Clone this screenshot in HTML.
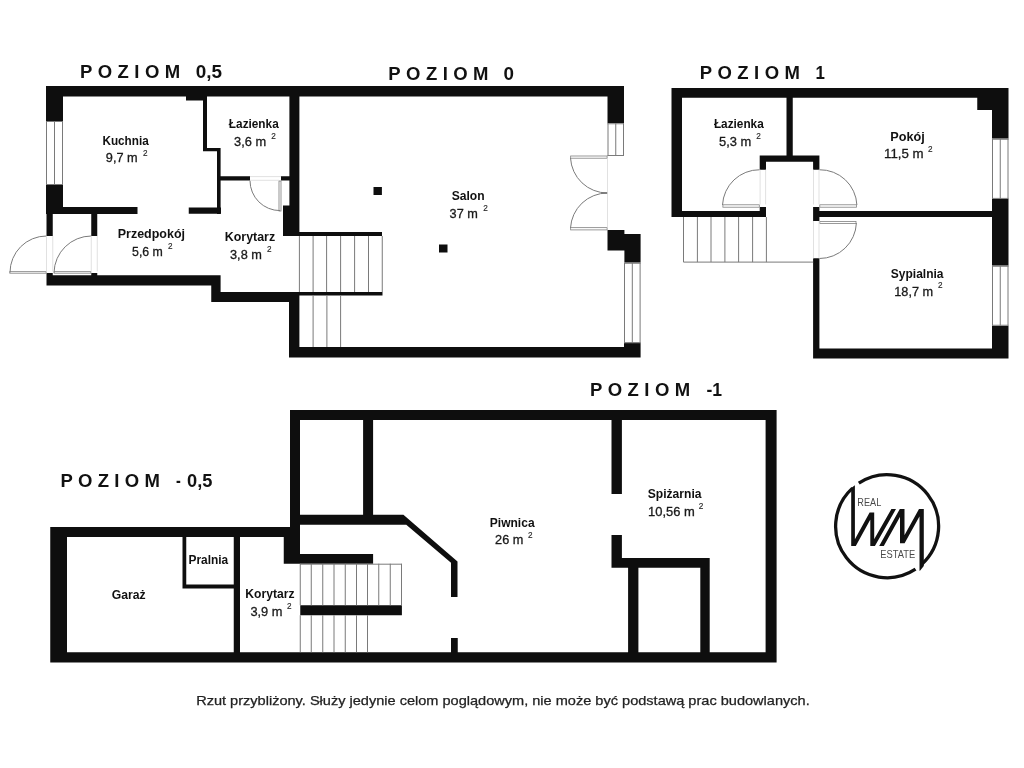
<!DOCTYPE html>
<html><head><meta charset="utf-8"><style>
html,body{margin:0;padding:0;background:#fff;width:1024px;height:768px;overflow:hidden}
svg{display:block;font-family:"Liberation Sans",sans-serif;will-change:transform}
</style></head><body>
<svg width="1024" height="768" viewBox="0 0 1024 768">

<path fill="#0e0e0e" d="M46,86H624V96.5H46ZM46,86H63V121H46ZM46,185H63V214H46ZM46,207H137.5V214H46ZM188.75,207.5H221V213.75H188.75ZM46.5,214H52.75V236H46.5ZM91.25,214H97.25V236H91.25ZM46.5,273H52.75V276H46.5ZM91.25,273H97.25V276H91.25ZM46.5,275.25H220.6V285.6H46.5ZM211.25,275.25H220.6V302H211.25ZM211.25,292H299.4V302H211.25ZM186,96.5H207V100.6H186ZM203,96.5H207V151.25H203ZM203,148H220.6V151.25H203ZM217,148H220.6V214H217ZM217,176.25H250V180.6H217ZM281,176.25H289.4V180.6H281ZM289.4,96.5H299.4V236H289.4ZM283,205.6H299.4V236H283ZM283,232H382V236H283ZM289,292H299.4V357.5H289ZM289,347H640.6V357.5H289ZM607.5,86H624V123.25H607.5ZM607.5,230L624.4,230L624.4,234.1L640.6,234.1L640.6,262.75L624.4,262.75L624.4,250.6L607.5,250.6ZM624,343.1H640.6V357.5H624ZM299.4,292H382.5V295.6H299.4ZM373.5,187H381.9V195H373.5ZM439,244.5H447.5V252.5H439ZM671.5,88H1008.5V97.8H671.5ZM671.5,88H682V217H671.5ZM671.5,211H766V217H671.5ZM786.5,97.8H792.75V155.6H786.5ZM759.7,155.6H819.4V161.7H759.7ZM759.7,161.7H766V169.75H759.7ZM813.1,161.7H819.4V169.75H813.1ZM759.7,207H766V217H759.7ZM813.1,207H819.4V221H813.1ZM819.4,211H992V217H819.4ZM813.1,258.3H819.4V358.5H813.1ZM813.1,348.5H1008.5V358.5H813.1ZM992,88H1008.5V138.75H992ZM977.25,97.8H992V110H977.25ZM992,198.9H1008.5V265.75H992ZM992,325.75H1008.5V358.5H992ZM50.25,527H290V537H50.25ZM50.25,527H67V662.5H50.25ZM50.25,652.2H776.6V662.5H50.25ZM182.5,537H186.25V588.5H182.5ZM182.5,584.4H239.75V588.5H182.5ZM233.75,537H240V652.2H233.75ZM283.75,527H300V563.75H283.75ZM284.4,554H373.1V563.75H284.4ZM290,410H776.6V420H290ZM290,410H300V563.75H290ZM363.1,420H373.1V515H363.1ZM300,514.75L403.4,514.75L457.5,561.4L457.5,597L451,597L451,562.8L406.25,524.8L300,524.8ZM451,638H457.75V652.5H451ZM300.25,605.25H401.9V615.25H300.25ZM611.5,420H621.9V494H611.5ZM611.5,535H621.9V567.8H611.5ZM611.5,557.9H709.7V567.8H611.5ZM628.1,567.8H638.4V652.2H628.1ZM700.3,557.9H709.7V652.2H700.3ZM765.6,410H776.6V662.5H765.6Z"/>
<rect x="46" y="121" width="17" height="64" fill="#fff"/>
<line x1="46.5" y1="121" x2="46.5" y2="185" stroke="#7a7a7a" stroke-width="1"/>
<line x1="54.5" y1="121" x2="54.5" y2="185" stroke="#7a7a7a" stroke-width="1"/>
<line x1="62.5" y1="121" x2="62.5" y2="185" stroke="#7a7a7a" stroke-width="1"/>
<line x1="46" y1="121.5" x2="63" y2="121.5" stroke="#7a7a7a" stroke-width="1"/>
<line x1="46" y1="184.5" x2="63" y2="184.5" stroke="#7a7a7a" stroke-width="1"/>
<rect x="9.8" y="271.65" width="36.3" height="1.55" fill="#fff" stroke="#808080" stroke-width="0.8"/>
<path d="M46.5,236 A36.5,36.5 0 0 0 10,272.5" stroke="#7a7a7a" stroke-width="1" fill="none"/>
<rect x="54.15" y="271.65" width="36.7" height="1.55" fill="#fff" stroke="#808080" stroke-width="0.8"/>
<path d="M91.25,236 A37.5,37.5 0 0 0 54,272.5" stroke="#7a7a7a" stroke-width="1" fill="none"/>
<rect x="279" y="181" width="2" height="30" fill="#fff" stroke="#7a7a7a" stroke-width="0.8"/>
<path d="M250,180.6 A30,30 0 0 0 280,210.6" stroke="#7a7a7a" stroke-width="1" fill="none"/>
<rect x="607.5" y="123.25" width="16.5" height="32.75" fill="#fff"/>
<line x1="608.0" y1="123.25" x2="608.0" y2="156" stroke="#7a7a7a" stroke-width="1"/>
<line x1="615.75" y1="123.25" x2="615.75" y2="156" stroke="#7a7a7a" stroke-width="1"/>
<line x1="623.5" y1="123.25" x2="623.5" y2="156" stroke="#7a7a7a" stroke-width="1"/>
<line x1="607.5" y1="123.75" x2="624" y2="123.75" stroke="#7a7a7a" stroke-width="1"/>
<line x1="607.5" y1="155.5" x2="624" y2="155.5" stroke="#7a7a7a" stroke-width="1"/>
<rect x="624" y="262.75" width="16.6" height="80.35" fill="#fff"/>
<line x1="624.5" y1="262.75" x2="624.5" y2="343.1" stroke="#7a7a7a" stroke-width="1"/>
<line x1="632.3" y1="262.75" x2="632.3" y2="343.1" stroke="#7a7a7a" stroke-width="1"/>
<line x1="640.1" y1="262.75" x2="640.1" y2="343.1" stroke="#7a7a7a" stroke-width="1"/>
<line x1="624" y1="263.25" x2="640.6" y2="263.25" stroke="#7a7a7a" stroke-width="1"/>
<line x1="624" y1="342.6" x2="640.6" y2="342.6" stroke="#7a7a7a" stroke-width="1"/>
<rect x="570.65" y="156.0" width="36.45" height="2.2" fill="#fff" stroke="#808080" stroke-width="0.8"/>
<path d="M570.5,158 A37,37 0 0 0 607.5,193" stroke="#7a7a7a" stroke-width="1" fill="none"/>
<rect x="570.65" y="227.65" width="36.45" height="2.25" fill="#fff" stroke="#808080" stroke-width="0.8"/>
<path d="M570.5,228 A37,37 0 0 1 607.5,193" stroke="#7a7a7a" stroke-width="1" fill="none"/>
<line x1="601" y1="193" x2="607.5" y2="193" stroke="#7a7a7a" stroke-width="1.5"/>
<line x1="299.4" y1="236" x2="299.4" y2="292" stroke="#7a7a7a" stroke-width="1"/>
<line x1="313.1" y1="236" x2="313.1" y2="292" stroke="#7a7a7a" stroke-width="1"/>
<line x1="326.6" y1="236" x2="326.6" y2="292" stroke="#7a7a7a" stroke-width="1"/>
<line x1="340.6" y1="236" x2="340.6" y2="292" stroke="#7a7a7a" stroke-width="1"/>
<line x1="354.6" y1="236" x2="354.6" y2="292" stroke="#7a7a7a" stroke-width="1"/>
<line x1="368.5" y1="236" x2="368.5" y2="292" stroke="#7a7a7a" stroke-width="1"/>
<line x1="382.25" y1="236" x2="382.25" y2="292" stroke="#7a7a7a" stroke-width="1"/>
<line x1="313.1" y1="295.6" x2="313.1" y2="347" stroke="#7a7a7a" stroke-width="1"/>
<line x1="326.9" y1="295.6" x2="326.9" y2="347" stroke="#7a7a7a" stroke-width="1"/>
<line x1="340.6" y1="295.6" x2="340.6" y2="347" stroke="#7a7a7a" stroke-width="1"/>
<rect x="992" y="138.75" width="16.5" height="60.15" fill="#fff"/>
<line x1="992.5" y1="138.75" x2="992.5" y2="198.9" stroke="#7a7a7a" stroke-width="1"/>
<line x1="1000.25" y1="138.75" x2="1000.25" y2="198.9" stroke="#7a7a7a" stroke-width="1"/>
<line x1="1008.0" y1="138.75" x2="1008.0" y2="198.9" stroke="#7a7a7a" stroke-width="1"/>
<line x1="992" y1="139.25" x2="1008.5" y2="139.25" stroke="#7a7a7a" stroke-width="1"/>
<line x1="992" y1="198.4" x2="1008.5" y2="198.4" stroke="#7a7a7a" stroke-width="1"/>
<rect x="992" y="265.75" width="16.5" height="60.0" fill="#fff"/>
<line x1="992.5" y1="265.75" x2="992.5" y2="325.75" stroke="#7a7a7a" stroke-width="1"/>
<line x1="1000.25" y1="265.75" x2="1000.25" y2="325.75" stroke="#7a7a7a" stroke-width="1"/>
<line x1="1008.0" y1="265.75" x2="1008.0" y2="325.75" stroke="#7a7a7a" stroke-width="1"/>
<line x1="992" y1="266.25" x2="1008.5" y2="266.25" stroke="#7a7a7a" stroke-width="1"/>
<line x1="992" y1="325.25" x2="1008.5" y2="325.25" stroke="#7a7a7a" stroke-width="1"/>
<line x1="683.5" y1="217" x2="683.5" y2="262.1" stroke="#7a7a7a" stroke-width="1"/>
<line x1="697.4" y1="217" x2="697.4" y2="262.1" stroke="#7a7a7a" stroke-width="1"/>
<line x1="711" y1="217" x2="711" y2="262.1" stroke="#7a7a7a" stroke-width="1"/>
<line x1="724.9" y1="217" x2="724.9" y2="262.1" stroke="#7a7a7a" stroke-width="1"/>
<line x1="738.6" y1="217" x2="738.6" y2="262.1" stroke="#7a7a7a" stroke-width="1"/>
<line x1="752.6" y1="217" x2="752.6" y2="262.1" stroke="#7a7a7a" stroke-width="1"/>
<line x1="766.4" y1="217" x2="766.4" y2="262.1" stroke="#7a7a7a" stroke-width="1"/>
<line x1="683.5" y1="262.1" x2="813.1" y2="262.1" stroke="#7a7a7a" stroke-width="1"/>
<rect x="722.9" y="204.8" width="36.4" height="2.4" fill="#fff" stroke="#808080" stroke-width="0.8"/>
<path d="M722.5,205 A37,37 0 0 1 759.7,169.75" stroke="#7a7a7a" stroke-width="1" fill="none"/>
<rect x="819.8" y="204.8" width="36.7" height="2.4" fill="#fff" stroke="#808080" stroke-width="0.8"/>
<path d="M819.4,169.75 A37,37 0 0 1 856.9,205" stroke="#7a7a7a" stroke-width="1" fill="none"/>
<rect x="819.8" y="221.5" width="36.2" height="2.0" fill="#fff" stroke="#808080" stroke-width="0.8"/>
<path d="M856.4,223 A37,37 0 0 1 819.4,258.5" stroke="#7a7a7a" stroke-width="1" fill="none"/>
<line x1="300" y1="564.2" x2="401.9" y2="564.2" stroke="#7a7a7a" stroke-width="1"/>
<line x1="300.25" y1="563.75" x2="300.25" y2="605.25" stroke="#7a7a7a" stroke-width="1"/>
<line x1="311.25" y1="563.75" x2="311.25" y2="605.25" stroke="#7a7a7a" stroke-width="1"/>
<line x1="322.75" y1="563.75" x2="322.75" y2="605.25" stroke="#7a7a7a" stroke-width="1"/>
<line x1="334" y1="563.75" x2="334" y2="605.25" stroke="#7a7a7a" stroke-width="1"/>
<line x1="345.25" y1="563.75" x2="345.25" y2="605.25" stroke="#7a7a7a" stroke-width="1"/>
<line x1="356.5" y1="563.75" x2="356.5" y2="605.25" stroke="#7a7a7a" stroke-width="1"/>
<line x1="367.5" y1="563.75" x2="367.5" y2="605.25" stroke="#7a7a7a" stroke-width="1"/>
<line x1="378.75" y1="563.75" x2="378.75" y2="605.25" stroke="#7a7a7a" stroke-width="1"/>
<line x1="390.25" y1="563.75" x2="390.25" y2="605.25" stroke="#7a7a7a" stroke-width="1"/>
<line x1="401.5" y1="563.75" x2="401.5" y2="605.25" stroke="#7a7a7a" stroke-width="1"/>
<line x1="300.25" y1="615.25" x2="300.25" y2="652.2" stroke="#7a7a7a" stroke-width="1"/>
<line x1="311.25" y1="615.25" x2="311.25" y2="652.2" stroke="#7a7a7a" stroke-width="1"/>
<line x1="322.75" y1="615.25" x2="322.75" y2="652.2" stroke="#7a7a7a" stroke-width="1"/>
<line x1="334" y1="615.25" x2="334" y2="652.2" stroke="#7a7a7a" stroke-width="1"/>
<line x1="345.25" y1="615.25" x2="345.25" y2="652.2" stroke="#7a7a7a" stroke-width="1"/>
<line x1="356.5" y1="615.25" x2="356.5" y2="652.2" stroke="#7a7a7a" stroke-width="1"/>
<line x1="367.5" y1="615.25" x2="367.5" y2="652.2" stroke="#7a7a7a" stroke-width="1"/>
<line x1="46.5" y1="236" x2="46.5" y2="271.5" stroke="#d9d9d9" stroke-width="0.8"/>
<line x1="52.75" y1="236" x2="52.75" y2="271.5" stroke="#d9d9d9" stroke-width="0.8"/>
<line x1="91.25" y1="236" x2="91.25" y2="271.5" stroke="#d9d9d9" stroke-width="0.8"/>
<line x1="97.25" y1="236" x2="97.25" y2="271.5" stroke="#d9d9d9" stroke-width="0.8"/>
<line x1="250" y1="176.6" x2="281" y2="176.6" stroke="#d9d9d9" stroke-width="0.8"/>
<line x1="250" y1="180.3" x2="279" y2="180.3" stroke="#d9d9d9" stroke-width="0.8"/>
<line x1="607.5" y1="158.5" x2="607.5" y2="227.5" stroke="#d9d9d9" stroke-width="0.8"/>
<line x1="760.1" y1="169.75" x2="760.1" y2="204.5" stroke="#d9d9d9" stroke-width="0.8"/>
<line x1="765.6" y1="169.75" x2="765.6" y2="204.5" stroke="#d9d9d9" stroke-width="0.8"/>
<line x1="813.5" y1="169.75" x2="813.5" y2="204.5" stroke="#d9d9d9" stroke-width="0.8"/>
<line x1="819" y1="169.75" x2="819" y2="204.5" stroke="#d9d9d9" stroke-width="0.8"/>
<line x1="813.5" y1="221" x2="813.5" y2="258.3" stroke="#d9d9d9" stroke-width="0.8"/>
<line x1="819" y1="221" x2="819" y2="258.3" stroke="#d9d9d9" stroke-width="0.8"/>
<text id="kuch_n" x="102.44" y="145.4" font-size="12.5" font-weight="bold" fill="#111" textLength="46.29" lengthAdjust="spacingAndGlyphs">Kuchnia</text>
<text id="kuch_a" x="105.88" y="162.4" font-size="12.5" font-weight="normal" fill="#1a1a1a" stroke="#1a1a1a" stroke-width="0.3" textLength="31.78" lengthAdjust="spacingAndGlyphs">9,7 m</text>
<text id="kuch_s" x="142.9" y="156" font-size="8.2" font-weight="normal" fill="#262626" stroke="#262626" stroke-width="0.15">2</text>
<text id="laz0_n" x="228.86" y="128.1" font-size="12.5" font-weight="bold" fill="#111" textLength="49.84" lengthAdjust="spacingAndGlyphs">Łazienka</text>
<text id="laz0_a" x="234.0" y="145.6" font-size="12.5" font-weight="normal" fill="#1a1a1a" stroke="#1a1a1a" stroke-width="0.3" textLength="32.07" lengthAdjust="spacingAndGlyphs">3,6 m</text>
<text id="laz0_s" x="271.19" y="138.5" font-size="8.2" font-weight="normal" fill="#262626" stroke="#262626" stroke-width="0.15">2</text>
<text id="przed_n" x="117.73" y="238" font-size="12.5" font-weight="bold" fill="#111" textLength="67.27" lengthAdjust="spacingAndGlyphs">Przedpokój</text>
<text id="przed_a" x="132.07" y="255.6" font-size="12.5" font-weight="normal" fill="#1a1a1a" stroke="#1a1a1a" stroke-width="0.3" textLength="30.82" lengthAdjust="spacingAndGlyphs">5,6 m</text>
<text id="przed_s" x="167.89" y="249" font-size="8.2" font-weight="normal" fill="#262626" stroke="#262626" stroke-width="0.15">2</text>
<text id="kor0_n" x="224.78" y="241.25" font-size="12.5" font-weight="bold" fill="#111" textLength="50.35" lengthAdjust="spacingAndGlyphs">Korytarz</text>
<text id="kor0_a" x="230.03" y="258.75" font-size="12.5" font-weight="normal" fill="#1a1a1a" stroke="#1a1a1a" stroke-width="0.3" textLength="31.84" lengthAdjust="spacingAndGlyphs">3,8 m</text>
<text id="kor0_s" x="266.9" y="251.9" font-size="8.2" font-weight="normal" fill="#262626" stroke="#262626" stroke-width="0.15">2</text>
<text id="salon_n" x="451.66" y="200" font-size="12.5" font-weight="bold" fill="#111" textLength="32.94" lengthAdjust="spacingAndGlyphs">Salon</text>
<text id="salon_a" x="449.64" y="217.5" font-size="12.5" font-weight="normal" fill="#1a1a1a" stroke="#1a1a1a" stroke-width="0.3" textLength="28.23" lengthAdjust="spacingAndGlyphs">37 m</text>
<text id="salon_s" x="483.19" y="211" font-size="8.2" font-weight="normal" fill="#262626" stroke="#262626" stroke-width="0.15">2</text>
<text id="laz1_n" x="713.91" y="128.1" font-size="12.5" font-weight="bold" fill="#111" textLength="49.84" lengthAdjust="spacingAndGlyphs">Łazienka</text>
<text id="laz1_a" x="718.98" y="145.5" font-size="12.5" font-weight="normal" fill="#1a1a1a" stroke="#1a1a1a" stroke-width="0.3" textLength="32.26" lengthAdjust="spacingAndGlyphs">5,3 m</text>
<text id="laz1_s" x="756.19" y="138.7" font-size="8.2" font-weight="normal" fill="#262626" stroke="#262626" stroke-width="0.15">2</text>
<text id="pokoj_n" x="890.32" y="141.1" font-size="12.5" font-weight="bold" fill="#111" textLength="34.53" lengthAdjust="spacingAndGlyphs">Pokój</text>
<text id="pokoj_a" x="884.01" y="158.4" font-size="12.5" font-weight="normal" fill="#1a1a1a" stroke="#1a1a1a" stroke-width="0.3" textLength="39.57" lengthAdjust="spacingAndGlyphs">11,5 m</text>
<text id="pokoj_s" x="927.91" y="152.3" font-size="8.2" font-weight="normal" fill="#262626" stroke="#262626" stroke-width="0.15">2</text>
<text id="syp_n" x="890.8" y="277.7" font-size="12.5" font-weight="bold" fill="#111" textLength="52.71" lengthAdjust="spacingAndGlyphs">Sypialnia</text>
<text id="syp_a" x="894.26" y="295.5" font-size="12.5" font-weight="normal" fill="#1a1a1a" stroke="#1a1a1a" stroke-width="0.3" textLength="38.85" lengthAdjust="spacingAndGlyphs">18,7 m</text>
<text id="syp_s" x="937.95" y="288.3" font-size="8.2" font-weight="normal" fill="#262626" stroke="#262626" stroke-width="0.15">2</text>
<text id="piw_n" x="489.8" y="526.75" font-size="12.5" font-weight="bold" fill="#111" textLength="44.78" lengthAdjust="spacingAndGlyphs">Piwnica</text>
<text id="piw_a" x="495.11" y="543.75" font-size="12.5" font-weight="normal" fill="#1a1a1a" stroke="#1a1a1a" stroke-width="0.3" textLength="28.27" lengthAdjust="spacingAndGlyphs">26 m</text>
<text id="piw_s" x="527.89" y="537.5" font-size="8.2" font-weight="normal" fill="#262626" stroke="#262626" stroke-width="0.15">2</text>
<text id="spiz_n" x="647.68" y="498.1" font-size="12.5" font-weight="bold" fill="#111" textLength="53.81" lengthAdjust="spacingAndGlyphs">Spiżarnia</text>
<text id="spiz_a" x="648.02" y="515.6" font-size="12.5" font-weight="normal" fill="#1a1a1a" stroke="#1a1a1a" stroke-width="0.3" textLength="46.72" lengthAdjust="spacingAndGlyphs">10,56 m</text>
<text id="spiz_s" x="698.67" y="509" font-size="8.2" font-weight="normal" fill="#262626" stroke="#262626" stroke-width="0.15">2</text>
<text id="kor1_n" x="245.31" y="598.1" font-size="12.5" font-weight="bold" fill="#111" textLength="49.17" lengthAdjust="spacingAndGlyphs">Korytarz</text>
<text id="kor1_a" x="250.41" y="616" font-size="12.5" font-weight="normal" fill="#1a1a1a" stroke="#1a1a1a" stroke-width="0.3" textLength="32.08" lengthAdjust="spacingAndGlyphs">3,9 m</text>
<text id="kor1_s" x="286.9" y="608.75" font-size="8.2" font-weight="normal" fill="#262626" stroke="#262626" stroke-width="0.15">2</text>
<text id="garaz" x="111.69" y="599" font-size="12.5" font-weight="bold" fill="#111" textLength="33.9" lengthAdjust="spacingAndGlyphs">Garaż</text>
<text id="pral" x="188.51" y="564.4" font-size="12.5" font-weight="bold" fill="#111" textLength="39.75" lengthAdjust="spacingAndGlyphs">Pralnia</text>
<text id="t05" x="79.99" y="77.9" font-size="18.5" font-weight="bold" fill="#111" textLength="100.13" lengthAdjust="spacing">POZIOM</text>
<text id="t05b" x="195.66" y="77.9" font-size="18.5" font-weight="bold" fill="#111" textLength="26.27" lengthAdjust="spacingAndGlyphs">0,5</text>
<text id="t0" x="388.24" y="80.2" font-size="18.5" font-weight="bold" fill="#111" textLength="100.26" lengthAdjust="spacing">POZIOM</text>
<text id="t0b" x="503.6" y="80.2" font-size="18.5" font-weight="bold" fill="#111" textLength="10.48" lengthAdjust="spacingAndGlyphs">0</text>
<text id="t1" x="699.78" y="79.1" font-size="18.5" font-weight="bold" fill="#111" textLength="100.12" lengthAdjust="spacing">POZIOM</text>
<text id="t1b" x="815.48" y="79.1" font-size="18.5" font-weight="bold" fill="#111" textLength="9.39" lengthAdjust="spacingAndGlyphs">1</text>
<text id="tm1" x="589.99" y="395.9" font-size="18.5" font-weight="bold" fill="#111" textLength="100.13" lengthAdjust="spacing">POZIOM</text>
<text id="tm1b" x="706.4" y="395.9" font-size="18.5" font-weight="bold" fill="#111" textLength="15.6" lengthAdjust="spacingAndGlyphs">-1</text>
<text id="tm05" x="60.42" y="487.2" font-size="18.5" font-weight="bold" fill="#111" textLength="99.46" lengthAdjust="spacing">POZIOM</text>
<text id="tm05b" x="175.93" y="487.2" font-size="18.5" font-weight="bold" fill="#111" textLength="4.81" lengthAdjust="spacingAndGlyphs">-</text>
<text id="tm05c" x="187.07" y="487.2" font-size="18.5" font-weight="bold" fill="#111" textLength="25.37" lengthAdjust="spacingAndGlyphs">0,5</text>
<text id="cap" x="196.17" y="705" font-size="13" font-weight="normal" fill="#222" stroke="#222" stroke-width="0.25" textLength="613.53" lengthAdjust="spacingAndGlyphs">Rzut przybliżony. Służy jedynie celom poglądowym, nie może być podstawą prac budowlanych.</text>
<text id="real" x="857.36" y="505.9" font-size="11" font-weight="normal" fill="#4a4a4a" textLength="23.88" lengthAdjust="spacingAndGlyphs">REAL</text>
<text id="estate" x="880.33" y="557.8" font-size="11" font-weight="normal" fill="#4a4a4a" textLength="34.93" lengthAdjust="spacingAndGlyphs">ESTATE</text>
<g fill="none" stroke="#111" stroke-width="3.3"><path d="M858.8,483.2 A51.5,51.5 0 0 1 922,564.1"/><path d="M915.5,569.2 A51.5,51.5 0 0 1 852.5,488.1"/></g>
<path fill="#111" d="M851.2,488L854.9,485.2L854.9,546L851.2,546ZM869.6,512.4L874.2,512.4L855.8,546L851.2,546ZM870.3,512.4L874.2,512.4L874.2,546L870.3,546ZM891.4,508.9L896,508.9L874.9,546L870.3,546ZM899.8,508.9L904.4,508.9L883.8,546L879.2,546ZM900,508.9L904.5,508.9L904.5,543.3L900,543.3ZM919,508.9L923.6,508.9L904.6,543.3L900,543.3ZM919.5,508.9L923.8,508.9L923.8,566L920,570.7L919.5,570.7Z"/>
</svg>
</body></html>
